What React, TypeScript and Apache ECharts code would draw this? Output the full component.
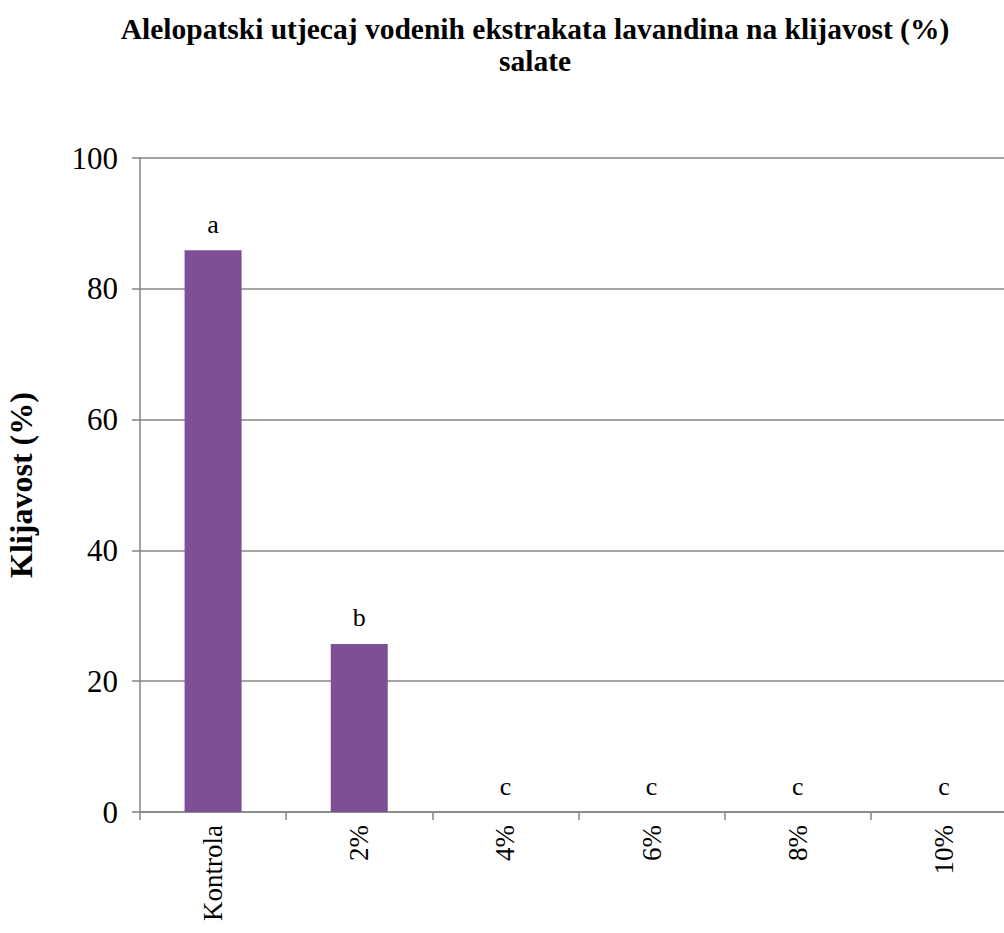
import React, { useEffect, useRef } from "react";
import * as echarts from "echarts";

const categories = ["Kontrola", "2%", "4%", "6%", "8%", "10%"];
const values = [85.9, 25.7, 0, 0, 0, 0];
const letters = ["a", "b", "c", "c", "c", "c"];
const yTicks = { min: 0, max: 100, interval: 20 };

const FONT = "Liberation Serif";

export default function App() {
  const ref = useRef<HTMLDivElement>(null);
  useEffect(() => {
    const chart = echarts.init(ref.current!, null, { renderer: "svg" });
    chart.setOption({
      animation: false,
      backgroundColor: "#ffffff",
      textStyle: { fontFamily: FONT },
      title: {
        text: "Alelopatski utjecaj vodenih ekstrakata lavandina na klijavost (%)\nsalate",
        left: 530,
        top: 8,
        textAlign: "center",
        textStyle: {
          fontFamily: FONT,
          fontWeight: "bold",
          fontSize: 29.5,
          color: "#000",
          lineHeight: 32,
        },
      },
      grid: {
        left: 140,
        right: -13,
        top: 158,
        bottom: 121,
        containLabel: false,
        outerBoundsMode: "none",
      },
      xAxis: {
        type: "category",
        data: categories,
        axisLine: { show: true, lineStyle: { color: "#868686", width: 1.5 } },
        axisTick: { show: true, length: 8, lineStyle: { color: "#868686", width: 1.5 } },
        axisLabel: {
          rotate: 90,
          margin: 13,
          fontFamily: FONT,
          fontSize: 27,
          color: "#000",
        },
      },
      yAxis: {
        type: "value",
        min: yTicks.min,
        max: yTicks.max,
        interval: yTicks.interval,
        name: "Klijavost (%)",
        nameLocation: "middle",
        nameGap: 103,
        nameTextStyle: {
          fontFamily: FONT,
          fontWeight: "bold",
          fontSize: 32,
          color: "#000",
        },
        axisLine: { show: true, lineStyle: { color: "#868686", width: 1.5 } },
        axisTick: { show: true, length: 8, lineStyle: { color: "#868686", width: 1.5 } },
        axisLabel: {
          margin: 22,
          fontFamily: FONT,
          fontSize: 31,
          color: "#000",
        },
        splitLine: { show: true, lineStyle: { color: "#868686", width: 1.5 } },
      },
      series: [
        {
          type: "bar",
          data: values,
          barWidth: 57,
          itemStyle: { color: "#7F4F96" },
          label: {
            show: true,
            position: "top",
            distance: 13,
            fontFamily: FONT,
            fontSize: 26,
            color: "#000",
            formatter: (p: any) => letters[p.dataIndex],
          },
        },
      ],
    });
    return () => chart.dispose();
  }, []);
  return (
    <div
      ref={ref}
      style={{ position: "absolute", left: 0, top: 0, width: 1004, height: 933 }}
    />
  );
}
